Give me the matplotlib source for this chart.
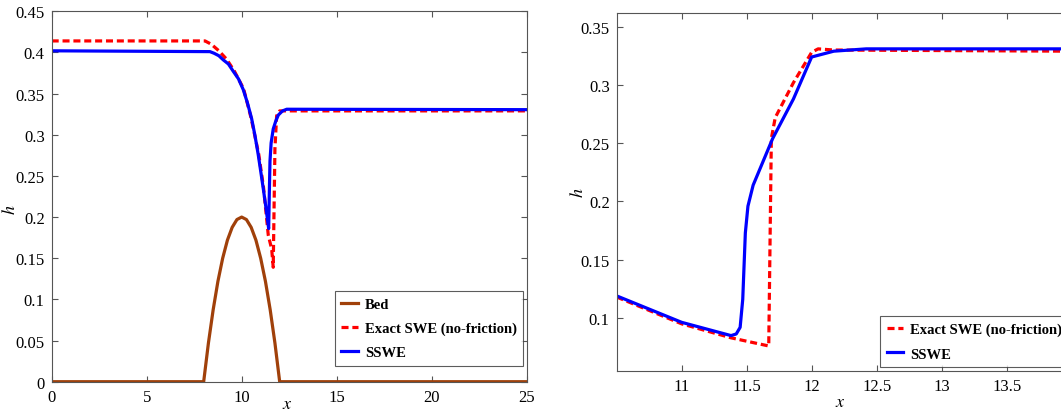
import matplotlib.pyplot as plt

plt.rcParams['font.family'] = ['Liberation Serif', 'DejaVu Serif']
plt.rcParams['mathtext.fontset'] = 'stix'

# left panel: free surface (h + b) and bed
bed_x = [0, 8, 8.25, 8.5, 8.75, 9, 9.25, 9.5, 9.75, 10, 10.25, 10.5, 10.75, 11,
         11.25, 11.5, 11.75, 12, 25]
bed_y = [0, 0, 0.047, 0.0875, 0.122, 0.15, 0.172, 0.1875, 0.197, 0.2, 0.197, 0.1875,
         0.172, 0.15, 0.122, 0.0875, 0.047, 0, 0]

exact_x = [0, 8.07, 8.4, 8.8, 9.2, 9.6, 10.1, 10.5, 10.9, 11.15, 11.4, 11.58, 11.66,
           11.75, 11.84, 12.0, 25]
exact_y = [0.414, 0.414, 0.410, 0.402, 0.392, 0.378, 0.356, 0.320, 0.276, 0.236, 0.178,
           0.161, 0.139, 0.283, 0.323, 0.329, 0.329]

sswe_x = [0, 8.33, 8.55, 8.8, 9.03, 9.3, 9.56, 9.83, 10.08, 10.3, 10.52, 10.7, 10.87,
          11.0, 11.14, 11.28, 11.42, 11.46, 11.49, 11.55, 11.66, 11.8, 11.93, 12.15,
          12.37, 25]
sswe_y = [0.402, 0.401, 0.399, 0.396, 0.391, 0.386, 0.377, 0.368, 0.355, 0.339, 0.320,
          0.299, 0.276, 0.256, 0.234, 0.211, 0.186, 0.235, 0.268, 0.290, 0.307, 0.317,
          0.324, 0.329, 0.331, 0.3305]

# right panel: zoom of h near the hydraulic jump
z_exact_x = [10.5, 11.0, 11.38, 11.67, 11.69, 11.72, 11.86, 12.0, 12.05, 12.17, 14]
z_exact_y = [0.118, 0.095, 0.083, 0.076, 0.254, 0.272, 0.302, 0.328, 0.331, 0.330, 0.329]

z_sswe_x = [10.5, 11.0, 11.38, 11.42, 11.45, 11.47, 11.49, 11.51, 11.55, 11.70, 11.86,
            12.0, 12.17, 12.42, 14]
z_sswe_y = [0.119, 0.0963, 0.0849, 0.0863, 0.092, 0.116, 0.173, 0.196, 0.214, 0.254,
            0.288, 0.324, 0.329, 0.331, 0.331]

bed_col = '#a0400a'
lw = 2.3


def style(ax):
    for s in ax.spines.values():
        s.set_color('#555555')
        s.set_linewidth(0.8)
    ax.tick_params(direction='in', top=True, right=True, length=4, labelsize=12,
                   color='#555555', pad=5)


def add_legend(ax, anchor):
    leg = ax.legend(loc='lower right', bbox_to_anchor=anchor, borderaxespad=0,
                    prop={'weight': 'bold', 'size': 10.5}, fancybox=False,
                    edgecolor='#333333', handlelength=1.1, labelspacing=0.75,
                    handletextpad=0.5, borderpad=0.45)
    leg.get_frame().set_linewidth(0.8)


fig = plt.figure(figsize=(10.61, 4.14), dpi=100)

ax1 = fig.add_axes([0.0487, 0.0756, 0.4477, 0.8947])
ax1.plot(bed_x, bed_y, color=bed_col, lw=lw, label='Bed')
ax1.plot(exact_x, exact_y, color='red', ls='--', lw=lw, dashes=(2.2, 1.2),
         label='Exact SWE (no-friction)')
ax1.plot(sswe_x, sswe_y, color='blue', lw=lw, label='SSWE')
ax1.set_xlim(0, 25)
ax1.set_ylim(0, 0.45)
ax1.set_xticks([0, 5, 10, 15, 20, 25])
ax1.set_yticks([0, 0.05, 0.1, 0.15, 0.2, 0.25, 0.3, 0.35, 0.4, 0.45])
ax1.set_yticklabels(['0', '0.05', '0.1', '0.15', '0.2', '0.25', '0.3', '0.35', '0.4', '0.45'])
ax1.set_xlabel('$x$', fontsize=13)
ax1.set_ylabel('$h$', fontsize=13)
ax1.xaxis.set_label_coords(0.495, -0.036)
ax1.yaxis.set_label_coords(-0.068, 0.466)
style(ax1)
add_legend(ax1, (0.993, 0.043))

ax2 = fig.add_axes([0.5812, 0.1014, 0.4288, 0.864])
ax2.plot(z_exact_x, z_exact_y, color='red', ls='--', lw=lw, dashes=(2.2, 1.2),
         label='Exact SWE (no-friction)')
ax2.plot(z_sswe_x, z_sswe_y, color='blue', lw=lw, label='SSWE')
ax2.set_xlim(10.5, 14)
ax2.set_ylim(0.0545, 0.3615)
ax2.set_xticks([11, 11.5, 12, 12.5, 13, 13.5])
ax2.set_xticklabels(['11', '11.5', '12', '12.5', '13', '13.5'])
ax2.set_yticks([0.1, 0.15, 0.2, 0.25, 0.3, 0.35])
ax2.set_yticklabels(['0.1', '0.15', '0.2', '0.25', '0.3', '0.35'])
ax2.set_xlabel('$x$', fontsize=13)
ax2.set_ylabel('$h$', fontsize=13)
ax2.xaxis.set_label_coords(0.492, -0.061)
ax2.yaxis.set_label_coords(-0.065, 0.50)
style(ax2)
add_legend(ax2, (0.993, 0.011))

plt.savefig('out.png', dpi=100)
